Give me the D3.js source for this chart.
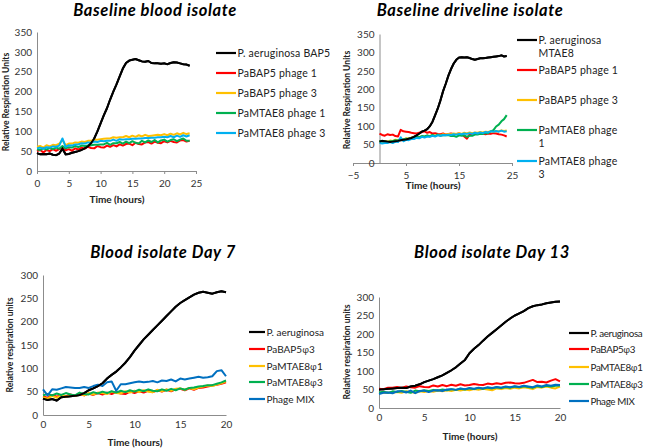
<!DOCTYPE html>
<html>
<head>
<meta charset="utf-8">
<script src="https://cdn.jsdelivr.net/npm/d3@7"></script>
<style>
  body { margin: 0; background: #fff; }
  svg { display: block; font-family: Lato, "Open Sans", sans-serif; }
</style>
</head>
<body>
<svg id="chart" width="647" height="448"></svg>
<script>
// ---- data (0.5 h steps) ----
const hours24 = d3.range(0, 24.01, 0.5);
const hours20 = d3.range(0, 20.01, 0.5);

// Baseline blood isolate
const bloodLabels = ["P. aeruginosa BAP5", "PaBAP5 phage 1", "PaBAP5 phage 3", "PaMTAE8 phage 1", "PaMTAE8 phage 3"];
const bloodPa = [45,42,43,42,44,41,40,44,56,42,43,46,48,50,53,57,62,70,82,100,120,140,158,180,200,218,238,258,272,278,280,282,279,276,275,277,272,271,271,270,271,269,272,274,273,271,269,268,265];
const bloodBap1 = [50,53,47,53,50,55,51,55,58,52,55,51,57,54,59,56,61,58,57,63,60,59,64,61,65,62,67,64,68,69,65,71,68,67,72,73,69,74,71,70,75,72,76,73,72,77,78,74,76];
const bloodBap3 = [61,63,59,65,62,66,65,69,78,65,69,69,72,71,74,73,76,76,79,79,80,81,82,82,85,84,85,85,88,85,89,86,90,87,91,88,89,90,91,90,93,90,94,91,95,92,96,93,95];
const bloodMtae1 = [55,53,57,54,58,55,59,56,63,57,60,59,63,60,64,63,64,65,66,66,67,67,71,66,70,70,73,69,74,70,75,71,69,76,72,77,73,78,72,77,79,74,78,80,75,79,82,76,76];
const bloodMtae3 = [57,59,56,60,59,62,61,64,82,61,65,64,67,67,70,69,72,71,74,73,76,75,76,76,79,76,80,79,80,80,81,81,82,82,83,83,84,84,85,85,86,85,88,85,89,86,90,87,90];

// Baseline driveline isolate
const driveLabels = ["P. aeruginosa\nMTAE8", "PaBAP5 phage 1", "PaBAP5 phage 3", "PaMTAE8 phage\n1", "PaMTAE8 phage\n3"];
const drivePa = [58,60,59,58,57,58,59,60,62,63,64,66,68,71,75,80,85,88,92,100,112,130,148,170,195,215,237,255,270,280,286,287,286,287,285,282,280,282,284,284,285,286,287,288,289,290,292,289,290];
const driveBap1 = [80,76,74,78,76,77,73,72,90,86,85,84,82,81,80,82,84,86,82,84,80,81,79,78,80,77,79,80,78,79,80,78,72,66,78,79,80,81,79,80,78,80,79,81,80,78,77,75,72];
const driveBap3 = [58,56,60,57,61,60,63,62,65,64,67,66,69,68,71,70,73,71,74,73,76,74,77,75,78,77,79,78,80,79,81,79,82,80,83,81,83,82,84,83,85,84,86,85,87,86,88,87,88];
const driveMtae1 = [60,58,59,56,59,59,62,61,64,63,66,65,68,67,71,70,73,72,75,72,76,73,77,74,75,75,76,73,74,71,75,74,75,71,74,74,77,77,79,79,81,81,86,89,99,104,113,119,130];
const driveMtae3 = [55,53,54,54,57,54,58,57,70,59,63,62,65,65,68,67,71,69,72,71,74,72,75,74,76,75,77,76,78,77,79,78,80,79,81,79,82,80,83,81,84,83,86,85,87,85,88,85,86];

// Blood isolate Day 7
const dayLabels = ["P. aeruginosa", "PaBAP5\u03C63", "PaMTAE8\u03C61", "PaMTAE8\u03C63", "Phage MIX"];
const day7Pa = [35,32,34,31,38,39,40,41,43,47,53,57,62,68,78,86,93,102,112,124,138,150,162,172,182,192,202,212,222,232,240,246,252,258,262,264,262,260,263,265,263];
const day7Bap3 = [40,37,43,39,43,40,44,41,45,42,46,43,47,44,48,45,49,46,45,50,47,51,48,52,49,53,50,54,51,55,56,53,57,54,58,59,61,63,65,67,70];
const day7Mtae1 = [38,35,41,37,43,39,42,41,46,42,47,44,48,47,45,50,47,46,51,48,52,49,53,50,49,54,51,55,52,56,57,54,58,55,59,61,63,62,65,68,72];
const day7Mtae3 = [42,45,42,46,43,47,44,42,48,45,44,49,46,50,47,51,48,52,49,53,50,54,51,55,52,51,55,52,56,53,57,54,58,59,61,62,64,64,67,70,74];
const day7Mix = [55,42,55,54,57,60,59,58,58,60,58,62,65,62,70,72,52,66,66,68,70,72,70,71,73,70,74,73,76,72,78,76,78,80,82,80,81,83,94,96,83];

// Blood isolate Day 13
const day13Pa = [50,51,52,53,54,55,54,58,60,64,70,74,78,83,88,95,102,110,120,130,148,160,170,182,193,203,213,223,233,242,250,256,262,270,275,278,280,283,285,287,288];
const day13Bap3 = [52,51,55,55,57,54,58,56,55,59,57,56,61,58,62,59,63,60,64,61,62,65,63,62,66,64,67,65,68,69,67,66,68,72,76,70,71,69,74,78,72];
const day13Mtae1 = [40,42,41,42,43,41,45,43,41,45,43,46,44,47,45,48,46,49,47,50,48,51,49,52,50,48,53,51,54,52,55,53,56,54,51,57,55,58,55,53,58];
const day13Mtae3 = [42,44,41,45,43,46,44,41,47,45,48,46,49,47,50,48,51,49,52,50,53,51,54,52,55,53,56,54,57,55,58,56,59,57,55,59,57,60,58,60,61];
const day13Mix = [38,41,42,40,45,45,42,47,40,46,47,43,47,48,46,50,51,49,53,51,54,52,55,53,56,54,57,55,58,56,59,57,60,58,56,61,58,62,60,63,62];

const baselineColors = ["#000000", "#FF0000", "#FFC000", "#00B050", "#00B0F0"];
const dayColors = ["#000000", "#FF0000", "#FFC000", "#00B050", "#0070C0"];

const svg = d3.select("#chart");

function drawPanel(p) {
  const g = svg.append("g");
  const x = d3.scaleLinear().domain(p.xDomain).range([p.left, p.right]);
  const y = d3.scaleLinear().domain(p.yDomain).range([p.bottom, p.top]);

  // title
  g.append("text")
    .attr("x", p.titleX).attr("y", p.titleY)
    .attr("text-anchor", "middle")
    .attr("font-size", "16.5px").attr("font-weight", "bold").attr("font-style", "italic")
    .attr("letter-spacing", "0.6px")
    .attr("fill", "#000")
    .text(p.title);

  // axes
  const xAxis = d3.axisBottom(x).tickValues(p.xTicks).tickSize(p.xTickSize).tickSizeOuter(0);
  const gx = g.append("g").attr("transform", `translate(0,${p.bottom})`).call(xAxis);
  const yAxis = d3.axisLeft(y).tickValues(p.yTicks).tickSize(0).tickPadding(5);
  const gy = g.append("g").attr("transform", `translate(${x(0)},0)`).call(yAxis);
  [gx, gy].forEach(a => {
    a.select(".domain").attr("stroke", "#8c8c8c").attr("stroke-width", 1);
    a.selectAll(".tick line").attr("stroke", "#8c8c8c");
    a.selectAll(".tick text").attr("font-size", "10px").attr("fill", "#333").attr("font-family", "Lato, sans-serif");
  });
  gx.selectAll(".tick text").attr("dy", "0.95em");

  g.append("text")
    .attr("x", p.xTitleX).attr("y", p.xTitleY)
    .attr("text-anchor", "middle")
    .attr("font-size", "10px").attr("font-weight", "bold").attr("fill", "#222")
    .text("Time (hours)");

  g.append("text")
    .attr("transform", `translate(${p.yTitleX},${p.yTitleY}) rotate(-90)`)
    .attr("text-anchor", "middle")
    .attr("font-size", "8.6px").attr("font-weight", "bold").attr("fill", "#222")
    .text(p.yTitle);

  // series
  const line = d3.line().x((d, i) => x(p.hours[i])).y(d => y(d));
  p.series.forEach((s, i) => {
    g.append("path")
      .datum(s)
      .attr("fill", "none")
      .attr("stroke", p.colors[i])
      .attr("stroke-width", 2)
      .attr("stroke-linejoin", "round")
      .attr("d", line);
  });
  // black curve on top where it crosses
  g.append("path").datum(p.series[0]).attr("fill", "none")
    .attr("stroke", p.colors[0]).attr("stroke-width", 2).attr("d", line);

  // legend
  p.labels.forEach((lab, i) => {
    const ly = p.legendY[i];
    const tx = p.legendX + p.legendLen + 1.5;
    g.append("line")
      .attr("x1", p.legendX).attr("x2", p.legendX + p.legendLen)
      .attr("y1", ly).attr("y2", ly)
      .attr("stroke", p.colors[i]).attr("stroke-width", 2.2);
    const t = g.append("text")
      .attr("x", tx).attr("y", ly + 3.5)
      .attr("font-size", p.legendSize).attr("letter-spacing", p.legendSpacing).attr("fill", "#222");
    lab.split("\n").forEach((part, k) => {
      const line = t.append("tspan").attr("x", tx).attr("dy", k === 0 ? 0 : 13);
      // phi glyph is not in Lato: take it from Open Sans
      part.split(/(\u03C6)/).forEach(bit => {
        if (!bit) return;
        const ts = line.append("tspan").text(bit);
        if (bit === "\u03C6") ts.attr("font-family", "'Open Sans', 'Noto Sans', sans-serif").attr("font-size", "9.5px");
      });
    });
  });
}

drawPanel({
  title: "Baseline blood isolate", titleX: 155, titleY: 16,
  xDomain: [0, 25], yDomain: [0, 350], left: 37, right: 196, top: 32, bottom: 171,
  xTicks: [0, 5, 10, 15, 20, 25], yTicks: d3.range(0, 351, 50), xTickSize: 3,
  xTitleX: 117, xTitleY: 203, yTitle: "Relative Respiration Units", yTitleX: 9, yTitleY: 102,
  hours: hours24, series: [bloodPa, bloodBap1, bloodBap3, bloodMtae1, bloodMtae3],
  colors: baselineColors, labels: bloodLabels, legendSize: "10.5px", legendSpacing: "0.2px",
  legendX: 216, legendLen: 20, legendY: [53, 73, 93, 113, 133]
});

drawPanel({
  title: "Baseline driveline isolate", titleX: 470, titleY: 16,
  xDomain: [-5, 25], yDomain: [0, 350], left: 353, right: 512, top: 34, bottom: 163,
  xTicks: [-5, 5, 15, 25], yTicks: d3.range(0, 351, 50), xTickSize: 3,
  xTitleX: 433, xTitleY: 189, yTitle: "Relative Respiration Units", yTitleX: 350, yTitleY: 100,
  hours: hours24, series: [drivePa, driveBap1, driveBap3, driveMtae1, driveMtae3],
  colors: baselineColors, labels: driveLabels, legendSize: "10.5px", legendSpacing: "0.2px",
  legendX: 517, legendLen: 20, legendY: [40, 70, 100, 130, 161]
});

drawPanel({
  title: "Blood isolate Day 7", titleX: 163, titleY: 258,
  xDomain: [0, 20], yDomain: [0, 300], left: 43, right: 226, top: 275, bottom: 415,
  xTicks: [0, 5, 10, 15, 20], yTicks: d3.range(0, 301, 50), xTickSize: 0,
  xTitleX: 135, xTitleY: 446, yTitle: "Relative respiration units", yTitleX: 13, yTitleY: 345,
  hours: hours20, series: [day7Pa, day7Bap3, day7Mtae1, day7Mtae3, day7Mix],
  colors: dayColors, labels: dayLabels, legendSize: "10px", legendSpacing: "0px",
  legendX: 249, legendLen: 16, legendY: [332, 349, 366, 382, 399]
});

drawPanel({
  title: "Blood isolate Day 13", titleX: 492, titleY: 258,
  xDomain: [0, 20], yDomain: [0, 300], left: 379, right: 560, top: 297, bottom: 408,
  xTicks: [0, 5, 10, 15, 20], yTicks: d3.range(0, 301, 50), xTickSize: 0,
  xTitleX: 470, xTitleY: 440, yTitle: "Relative respiration units", yTitleX: 350, yTitleY: 352,
  hours: hours20, series: [day13Pa, day13Bap3, day13Mtae1, day13Mtae3, day13Mix],
  colors: dayColors, labels: dayLabels, legendSize: "9.8px", legendSpacing: "-0.35px",
  legendX: 569, legendLen: 20, legendY: [333, 349, 367, 384, 401]
});
</script>
</body>
</html>
